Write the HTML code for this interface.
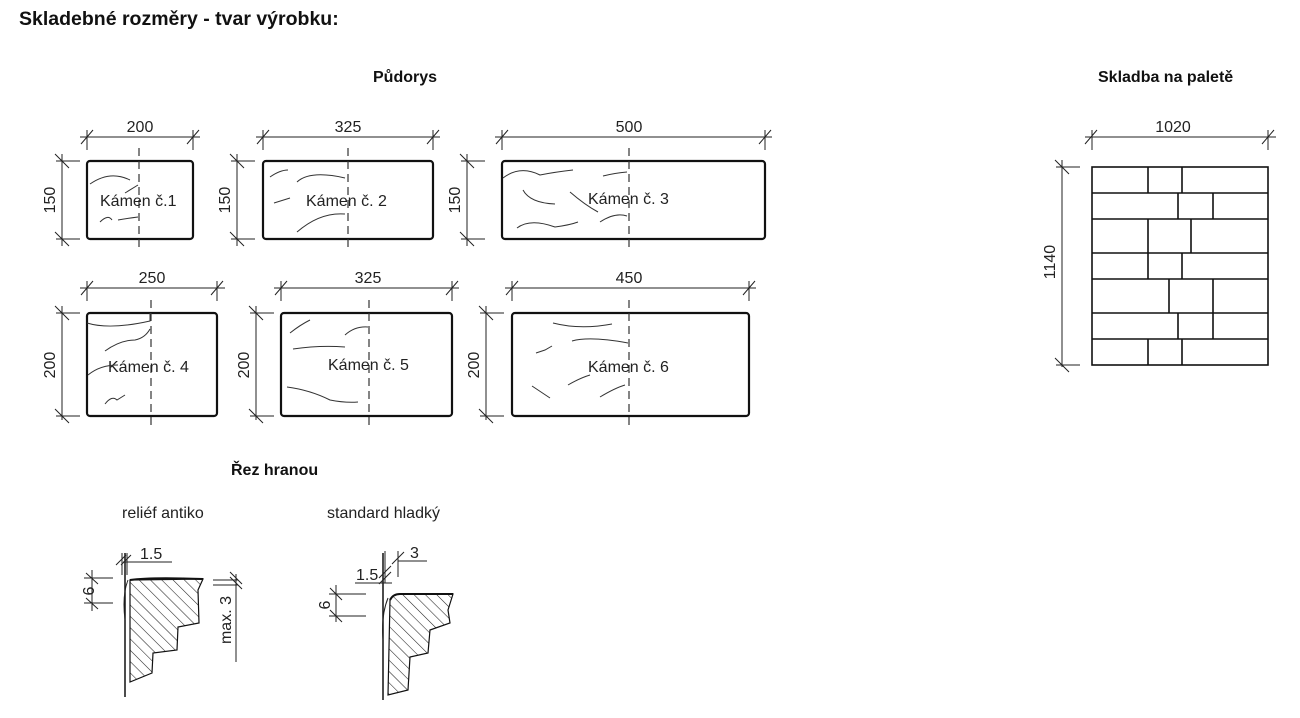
<!DOCTYPE html>
<html><head><meta charset="utf-8"><style>
html,body{margin:0;padding:0;background:#fff;}
svg{display:block;font-family:"Liberation Sans",sans-serif;}
.b{fill:none;stroke:#111;stroke-width:2.2;}
.d{stroke:#222;stroke-width:1;fill:none;}
.c{stroke:#333;stroke-width:1.2;stroke-dasharray:8,5;fill:none;}
.w{stroke:#333;stroke-width:1;fill:none;}
.t{font-size:16px;fill:#222;}
.h{font-size:19.5px;font-weight:bold;fill:#111;}
.h2{font-size:16px;font-weight:bold;fill:#111;}
</style></head><body>
<svg width="1300" height="718" viewBox="0 0 1300 718">
<defs>
<pattern id="hat" width="8" height="8" patternUnits="userSpaceOnUse" patternTransform="rotate(-45)">
<line x1="0" y1="0" x2="0" y2="8" stroke="#222" stroke-width="1.1"/>
</pattern>
</defs>
<text x="19" y="25" class="h">Skladebné rozměry - tvar výrobku:</text>
<text x="373" y="82" class="h2">Půdorys</text>
<text x="1098" y="82" class="h2">Skladba na paletě</text>
<text x="231" y="475" class="h2">Řez hranou</text>
<text x="122" y="518" class="t">reliéf antiko</text>
<text x="327" y="518" class="t">standard hladký</text>

<!-- Box 1 -->
<g>
<rect x="87" y="161" width="106" height="78" rx="3" class="b"/>
<line x1="139" y1="148" x2="139" y2="252" class="c"/>
<path class="d" d="M80 137H200 M87 130V150 M193 130V150 M81 144L93 130 M187 144L199 130"/>
<text x="140" y="132" class="t" text-anchor="middle">200</text>
<path class="d" d="M62 154V246 M56 161H80 M56 239H80 M55 154L69 168 M55 232L69 246"/>
<text x="58" y="200" class="t" text-anchor="middle" transform="rotate(-90 58 200)" dy="-3">150</text>
<text x="100" y="206" class="t">Kámen č.1</text>
<path class="w" d="M90 184Q110 170 130 180 M100 222Q108 214 112 220 M118 220Q130 218 138 217 M125 193L138 185"/>
</g>
<!-- Box 2 -->
<g>
<rect x="263" y="161" width="170" height="78" rx="3" class="b"/>
<line x1="348" y1="148" x2="348" y2="252" class="c"/>
<path class="d" d="M256 137H440 M263 130V150 M433 130V150 M257 144L269 130 M427 144L439 130"/>
<text x="348" y="132" class="t" text-anchor="middle">325</text>
<path class="d" d="M237 154V246 M231 161H255 M231 239H255 M230 154L244 168 M230 232L244 246"/>
<text x="233" y="200" class="t" text-anchor="middle" transform="rotate(-90 233 200)" dy="-3">150</text>
<text x="306" y="206" class="t">Kámen č. 2</text>
<path class="w" d="M270 177Q280 170 288 170 M297 182Q310 170 345 178 M274 203L290 198 M297 232Q320 212 345 214"/>
</g>
<!-- Box 3 -->
<g>
<rect x="502" y="161" width="263" height="78" rx="3" class="b"/>
<line x1="629" y1="148" x2="629" y2="252" class="c"/>
<path class="d" d="M495 137H772 M502 130V150 M765 130V150 M496 144L508 130 M759 144L771 130"/>
<text x="629" y="132" class="t" text-anchor="middle">500</text>
<path class="d" d="M467 154V246 M461 161H485 M461 239H485 M460 154L474 168 M460 232L474 246"/>
<text x="463" y="200" class="t" text-anchor="middle" transform="rotate(-90 463 200)" dy="-3">150</text>
<text x="588" y="204" class="t">Kámen č. 3</text>
<path class="w" d="M503 178Q520 165 540 175Q555 172 573 170 M603 176Q615 173 627 172 M523 190Q530 203 555 204 M570 192Q585 205 598 212 M517 228Q530 218 555 227Q570 225 578 222 M600 222Q615 212 627 216"/>
</g>
<!-- Box 4 -->
<g>
<rect x="87" y="313" width="130" height="103" rx="3" class="b"/>
<line x1="151" y1="300" x2="151" y2="428" class="c"/>
<path class="d" d="M80 288H225 M87 281V301 M217 281V301 M81 295L93 281 M211 295L223 281"/>
<text x="152" y="283" class="t" text-anchor="middle">250</text>
<path class="d" d="M62 306V420 M56 313H80 M56 416H80 M55 306L69 320 M55 409L69 423"/>
<text x="58" y="365" class="t" text-anchor="middle" transform="rotate(-90 58 365)" dy="-3">200</text>
<text x="108" y="372" class="t">Kámen č. 4</text>
<path class="w" d="M87 323Q110 330 150 321V313 M105 351Q120 340 135 340Q145 338 150 329 M88 375Q100 365 118 365 M105 404Q112 395 117 400L125 395"/>
</g>
<!-- Box 5 -->
<g>
<rect x="281" y="313" width="171" height="103" rx="3" class="b"/>
<line x1="369" y1="300" x2="369" y2="428" class="c"/>
<path class="d" d="M274 288H459 M281 281V301 M452 281V301 M275 295L287 281 M446 295L458 281"/>
<text x="368" y="283" class="t" text-anchor="middle">325</text>
<path class="d" d="M256 306V420 M250 313H274 M250 416H274 M249 306L263 320 M249 409L263 423"/>
<text x="252" y="365" class="t" text-anchor="middle" transform="rotate(-90 252 365)" dy="-3">200</text>
<text x="328" y="370" class="t">Kámen č. 5</text>
<path class="w" d="M290 333Q300 325 310 320 M345 335Q355 326 368 327 M293 349Q320 345 345 347 M287 387Q310 390 330 400Q345 403 358 402"/>
</g>
<!-- Box 6 -->
<g>
<rect x="512" y="313" width="237" height="103" rx="3" class="b"/>
<line x1="629" y1="300" x2="629" y2="428" class="c"/>
<path class="d" d="M505 288H756 M512 281V301 M749 281V301 M506 295L518 281 M743 295L755 281"/>
<text x="629" y="283" class="t" text-anchor="middle">450</text>
<path class="d" d="M486 306V420 M480 313H504 M480 416H504 M479 306L493 320 M479 409L493 423"/>
<text x="482" y="365" class="t" text-anchor="middle" transform="rotate(-90 482 365)" dy="-3">200</text>
<text x="588" y="372" class="t">Kámen č. 6</text>
<path class="w" d="M553 323Q580 330 612 324 M572 341Q590 336 628 343 M536 353L545 350L552 346 M568 385Q580 378 590 375 M532 386L550 398 M600 397Q615 388 625 385"/>
</g>

<!-- Pallet -->
<g>
<path class="d" d="M1085 137H1276 M1092 130V150 M1268 130V150 M1085 144L1097 130 M1262 144L1274 130"/>
<text x="1173" y="132" class="t" text-anchor="middle">1020</text>
<path class="d" d="M1062 160V367 M1056 167H1080 M1056 365H1080 M1055 160L1069 174 M1055 358L1069 372"/>
<text x="1058" y="262" class="t" text-anchor="middle" transform="rotate(-90 1058 262)" dy="-3">1140</text>
<rect x="1092" y="167" width="176" height="198" fill="none" stroke="#111" stroke-width="1.6"/>
<path fill="none" stroke="#111" stroke-width="1.6" d="M1092 193H1268 M1092 219H1268 M1092 253H1268 M1092 279H1268 M1092 313H1268 M1092 339H1268
M1148 167V193 M1182 167V193 M1178 193V219 M1213 193V219 M1148 219V253 M1191 219V253 M1148 253V279 M1182 253V279
M1169 279V313 M1213 279V313 M1178 313V339 M1213 313V339 M1148 339V365 M1182 339V365"/>
</g>

<!-- relief antiko section -->
<g>
<path d="M130 580L203 579L198 590L199 623L178 627L177 650L153 653L152 673L130 682Z" fill="url(#hat)" stroke="#111" stroke-width="1.2"/>
<path d="M130 580Q150 577 203 579" fill="none" stroke="#111" stroke-width="2"/>
<line x1="125" y1="553" x2="125" y2="697" stroke="#111" stroke-width="1.5"/>
<path class="d" d="M128 580Q122 595 125 620 M123 562H172 M122 553V575 M127 553V575 M116 565L126 555 M121 565L131 555"/>
<text x="140" y="559" class="t">1.5</text>
<path class="d" d="M84 578H113 M84 603H113 M92 570V611 M86 573L98 584 M86 598L98 609"/>
<text x="98" y="591" class="t" text-anchor="middle" transform="rotate(-90 98 591)" dy="-4">6</text>
<path class="d" d="M213 580H238 M213 585H238 M236 574V662 M230 572L242 584 M230 577L242 589"/>
<text x="232" y="620" class="t" text-anchor="middle" transform="rotate(-90 232 620)" dy="-1">max. 3</text>
</g>

<!-- standard hladky section -->
<g>
<path d="M390 600Q393 594 400 594L453 594L448 610L450 623L430 630L428 653L410 657L408 690L388 695Z" fill="url(#hat)" stroke="#111" stroke-width="1.2"/>
<path d="M390 600Q393 594 400 594L453 594" fill="none" stroke="#111" stroke-width="2"/>
<line x1="383" y1="553" x2="383" y2="700" stroke="#111" stroke-width="1.5"/>
<path class="d" d="M388 598Q381 615 383 640 M385 551V583 M398 551V577 M398 561H427 M355 583H392 M379 578L391 566 M392 564L404 552 M379 584L391 572"/>
<text x="410" y="558" class="t">3</text>
<text x="356" y="580" class="t">1.5</text>
<path class="d" d="M329 594H366 M329 616H366 M336 585V622 M330 588L342 600 M330 610L342 622"/>
<text x="326" y="605" class="t" text-anchor="middle" transform="rotate(-90 326 605)" dy="4">6</text>
</g>
</svg>
</body></html>
